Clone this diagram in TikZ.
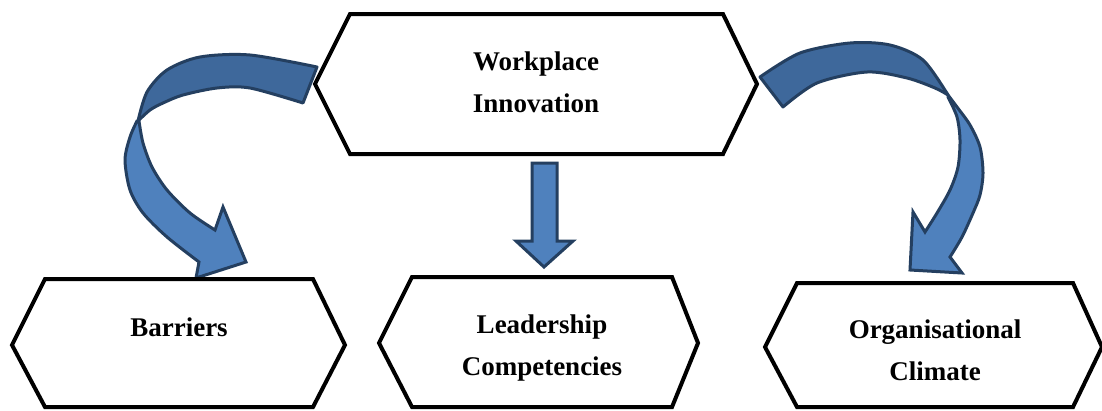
\documentclass[tikz,border=0pt]{standalone}
\usepackage{fontspec}
\setmainfont{Liberation Serif}
\definecolor{arrfront}{RGB}{79,129,189}
\definecolor{arrback}{RGB}{62,104,155}
\definecolor{arrline}{RGB}{36,63,96}
\tikzset{
  hexbox/.style={draw=black, line width=4pt, fill=white, line join=miter},
  lbl/.style={font=\fontsize{27}{41.5}\selectfont\bfseries, align=center, inner sep=0pt, anchor=base},
  ribbonback/.style={fill=arrback, draw=arrline, line width=3pt, line join=round},
  ribbonfront/.style={fill=arrfront, draw=arrline, line width=3pt, line join=miter},
}
\begin{document}
\begin{tikzpicture}[x=1pt,y=-1pt]
\useasboundingbox (0,0) rectangle (1102,410);
\fill[white] (0,0) rectangle (1102,410);

% left curved arrow
\draw[ribbonback] (317,67) -- plot[smooth] coordinates {(317,67) (250,55) (200,57) (167,70) (147,92) (138,121)}
  -- plot[smooth] coordinates {(138,121) (150,110) (163,103) (183,95) (217,88) (250,88) (303,103)} -- cycle;
\draw[ribbonfront] (137,121) -- plot[smooth] coordinates {(137,121) (130,137) (125,160) (130,190) (143,213) (167,237) (199,262)}
  -- (196,278) -- (246,262) -- (223,207) -- (215,230)
  -- plot[smooth] coordinates {(215,230) (190,213) (167,190) (152,167) (143,143) (139,121)} -- cycle;

% right curved arrow
\draw[ribbonback] (760,77) -- plot[smooth] coordinates {(760,77) (800,53) (850,43) (890,45) (923,60) (948,95)}
  -- plot[smooth] coordinates {(948,95) (935,88) (907,78) (867,72) (817,83) (783,107)} -- cycle;
\draw[ribbonfront] (948,95) -- plot[smooth] coordinates {(948,95) (957,107) (970,125) (980,147) (983,173) (980,195) (973,213) (962,237) (950,257)}
  -- (962,273) -- (910,270) -- (913,212) -- (925,232)
  -- plot[smooth] coordinates {(925,232) (937,213) (950,190) (958,167) (960,140) (957,117) (948,97)} -- cycle;

% straight down arrow
\draw[ribbonfront] (532,163) -- (557,163) -- (557,241) -- (573,241) -- (544,267) -- (516,241) -- (532,241) -- cycle;

% hexagon boxes
\draw[hexbox] (315,84) -- (350,14) -- (723,14) -- (757,84) -- (723,154) -- (350,154) -- cycle;
\draw[hexbox] (12,345) -- (45,279) -- (313,279) -- (345,345) -- (313,407) -- (45,407) -- cycle;
\draw[hexbox] (379,343) -- (412,277) -- (672,277) -- (698,343) -- (672,407) -- (412,407) -- cycle;
\draw[hexbox] (765,347) -- (797,283) -- (1073,283) -- (1102,347) -- (1073,407) -- (797,407) -- cycle;

% labels (base anchor = baseline of the last line)
\node[lbl] (wi) at (536,112) {Workplace\\Innovation};
\node[lbl] (bar) at (179,336) {Barriers};
\node[lbl] (lead) at (542,375) {Leadership\\Competencies};
\node[lbl] (org) at (935,380) {Organisational\\Climate};
\end{tikzpicture}
\end{document}
